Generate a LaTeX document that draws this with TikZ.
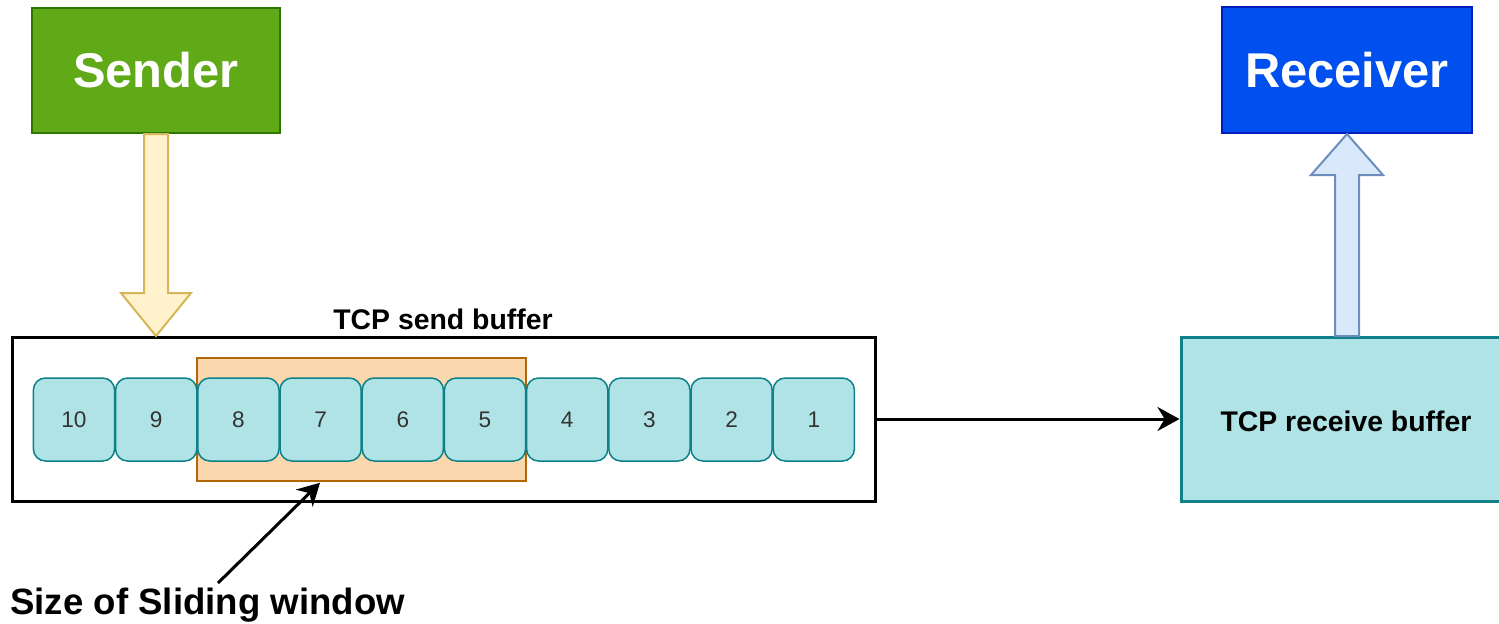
\documentclass[tikz,border=0pt]{standalone}
\usepackage{fontspec}
\setmainfont{Liberation Sans}
\usetikzlibrary{arrows.meta,calc}
\definecolor{sgreen}{HTML}{60A917}
\definecolor{sgreenS}{HTML}{2D7600}
\definecolor{rblue}{HTML}{0050EF}
\definecolor{rblueS}{HTML}{001DBC}
\definecolor{yfill}{HTML}{FFF2CC}
\definecolor{ydraw}{HTML}{D6B656}
\definecolor{bfill}{HTML}{DAE8FC}
\definecolor{bdraw}{HTML}{6C8EBF}
\definecolor{cfill}{HTML}{B0E3E6}
\definecolor{cdraw}{HTML}{0E8088}
\definecolor{ofill}{HTML}{FAD7AC}
\definecolor{odraw}{HTML}{B46504}
\definecolor{numtxt}{HTML}{333333}
\tikzset{
  bigbox/.style={draw, line width=1pt, minimum width=124pt, minimum height=62.5pt, text=white,
    font=\fontsize{24.4pt}{28pt}\selectfont\bfseries},
  cell/.style={draw=cdraw, fill=cfill, line width=0.75pt, rounded corners=6pt,
    minimum width=40.6pt, minimum height=41.5pt, text=numtxt, font=\fontsize{11.3pt}{13pt}\selectfont},
  window/.style={draw=odraw, fill=ofill, line width=0.75pt, minimum width=164.5pt, minimum height=61.5pt},
  label/.style={font=\fontsize{14.2pt}{17pt}\selectfont\bfseries, text=black},
  conn/.style={line width=1.5pt, -{Stealth[length=11pt,width=12pt]}},
  flexy/.style={draw=ydraw, fill=yfill, line width=1pt, line join=miter},
  flexb/.style={draw=bdraw, fill=bfill, line width=1pt, line join=miter}
}
\begin{document}
\begin{tikzpicture}[x=0.5pt,y=-0.5pt]
\useasboundingbox (0,0) rectangle (1499,623);
% top boxes
\node[bigbox, fill=sgreen, draw=sgreenS] (sender) at (156,70.5) {Sender};
\node[bigbox, fill=rblue, draw=rblueS, minimum width=125pt, minimum height=63pt] (receiver) at (1347,70) {Receiver};
% send buffer
\node[draw, line width=1.5pt, minimum width=431.5pt, minimum height=82pt] (sendbuf) at (443.5,419) {};
\node[label, anchor=base] (sendlbl) at (443,329) {TCP send buffer};
\node[window] (win) at (361.5,419.5) {};
\foreach \n [count=\k from 0] in {10,9,8,7,6,5,4,3,2,1}{
  \node[cell] (c\n) at ({74+82.2*\k},419.5) {\n};
}
% receive buffer
\node[draw=cdraw, fill=cfill, line width=1.5pt, minimum width=166pt, minimum height=82pt] (recvbuf) at (1347,419) {};
\node[label] (recvlbl) at (1346,421) {TCP receive buffer};
% connector
\draw[conn] (sendbuf.east) -- (recvbuf.west);
% flex arrows
\draw[flexy] ($(sender.south)+(-12,0)$) -- ($(sender.south)+(12,0)$) -- (168,293) -- (191,293) -- (156,336) -- (121,293) -- (144,293) -- cycle;
\draw[flexb] (1335,336) -- (1359,336) -- (1359,175) -- (1383,175) -- (receiver.south) -- (1311,175) -- (1335,175) -- cycle;
% sliding window label
\node[anchor=base west, inner sep=0pt, font=\fontsize{18.3pt}{21pt}\selectfont\bfseries] (slw) at (10,614) {Size of Sliding window};
\coordinate (tail) at (218,583);
\draw[conn] (tail) -- ($(win.south)+(-41.5,1)$);
\end{tikzpicture}
\end{document}
